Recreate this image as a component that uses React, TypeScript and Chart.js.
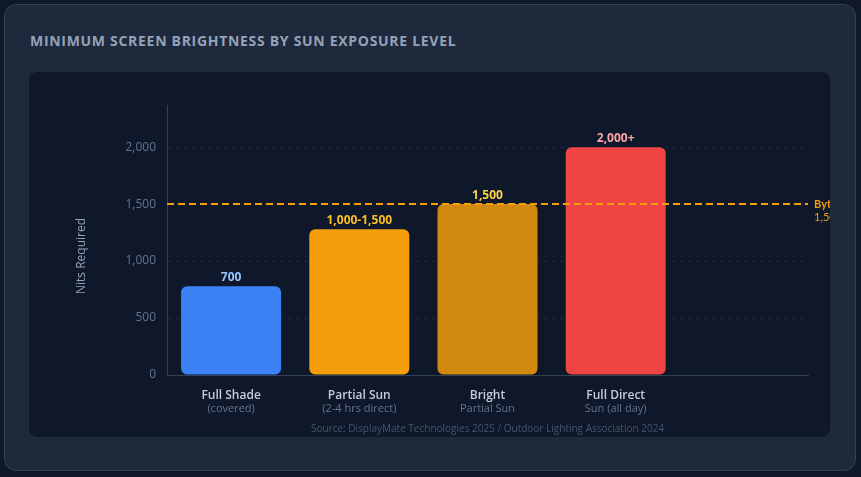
import React, { useEffect, useRef } from 'react';
import { Chart, registerables } from 'chart.js';

Chart.register(...registerables);

// ---- data ----
const categories = ['Full Shade', 'Partial Sun', 'Bright', 'Full Direct', ''];
const subLabels = ['(covered)', '(2-4 hrs direct)', 'Partial Sun', 'Sun (all day)', ''];
const nitsValues: (number | null)[] = [780, 1280, 1500, 2000, null];
const valueLabels = ['700', '1,000-1,500', '1,500', '2,000+', ''];
const barColors = ['#3b82f6', '#f59e0b', 'rgba(245,158,11,0.85)', '#ef4444', 'transparent'];
const valueLabelColors = ['#93c5fd', '#fbbf24', '#fcd34d', '#fca5a5', 'transparent'];
const yMin = 0;
const yMax = 2370;
const yTickValues = [0, 500, 1000, 1500, 2000];
const thresholdValue = 1500;
const thresholdLines = ['Bytech TV', '1,500 nits'];
const titleText = 'Minimum Screen Brightness by Sun Exposure Level';
const yAxisTitle = 'Nits Required';
const sourceText = 'Source: DisplayMate Technologies 2025 / Outdoor Lighting Association 2024';

const FONT = "'Open Sans', 'Noto Sans', sans-serif";
const NARROW = "Lato, 'Open Sans', sans-serif";

const CANVAS_W = 832;
const CANVAS_H = 365;

const overlayPlugin = {
  id: 'overlay',
  afterDatasetsDraw(chart: any) {
    const { ctx, chartArea, scales } = chart;
    const meta = chart.getDatasetMeta(0);
    // value labels
    ctx.save();
    ctx.font = `700 12px ${FONT}`;
    ctx.textAlign = 'center';
    ctx.textBaseline = 'bottom';
    meta.data.forEach((bar: any, i: number) => {
      if (nitsValues[i] == null) return;
      ctx.fillStyle = valueLabelColors[i];
      ctx.fillText(valueLabels[i], bar.x, bar.y - 3);
    });
    ctx.restore();

    // threshold line
    const y = scales.y.getPixelForValue(thresholdValue);
    ctx.save();
    ctx.strokeStyle = '#f59e0b';
    ctx.lineWidth = 2;
    ctx.setLineDash([7, 4]);
    ctx.beginPath();
    ctx.moveTo(chartArea.left, y);
    ctx.lineTo(chartArea.right, y);
    ctx.stroke();
    ctx.setLineDash([]);
    ctx.textAlign = 'left';
    ctx.textBaseline = 'middle';
    ctx.fillStyle = '#f59e0b';
    ctx.font = `700 11px ${NARROW}`;
    ctx.fillText(thresholdLines[0], chartArea.right + 6, y);
    ctx.font = `400 11px ${NARROW}`;
    ctx.fillText(thresholdLines[1], chartArea.right + 6, y + 13);
    ctx.restore();
  },
  afterDraw(chart: any) {
    const { ctx, chartArea, scales } = chart;
    const xs = scales.x;
    ctx.save();
    // sub labels
    ctx.font = `400 11px ${FONT}`;
    ctx.fillStyle = '#64748b';
    ctx.textAlign = 'center';
    ctx.textBaseline = 'alphabetic';
    subLabels.forEach((s, i) => {
      if (!s) return;
      ctx.fillText(s, xs.getPixelForTick(i), chartArea.bottom + 37);
    });
    // y axis title
    ctx.save();
    ctx.translate(chartArea.left - 85, (chartArea.top + chartArea.bottom) / 2 + 16);
    ctx.rotate(-Math.PI / 2);
    ctx.font = `400 12px ${FONT}`;
    ctx.fillStyle = '#94a3b8';
    ctx.textBaseline = 'middle';
    ctx.textAlign = 'center';
    ctx.fillText(yAxisTitle, 0, 0);
    ctx.restore();
    // source
    ctx.font = `400 10px ${FONT}`;
    ctx.fillStyle = '#475569';
    ctx.textAlign = 'center';
    ctx.textBaseline = 'middle';
    ctx.fillText(sourceText, (chartArea.left + chartArea.right) / 2, chartArea.bottom + 54);
    ctx.restore();
  },
};

function BarChart() {
  const ref = useRef<HTMLCanvasElement | null>(null);
  useEffect(() => {
    if (!ref.current) return;
    const chart = new Chart(ref.current, {
      type: 'bar',
      data: {
        labels: categories,
        datasets: [
          {
            data: nitsValues as any,
            backgroundColor: barColors,
            borderRadius: 6,
            borderSkipped: false,
            categoryPercentage: 0.78,
            barPercentage: 1,
          },
        ],
      },
      options: {
        responsive: false,
        animation: false,
        devicePixelRatio: 1,
        layout: { padding: { top: 33, right: 53, left: 42, bottom: 0 } },
        plugins: {
          legend: { display: false },
          tooltip: { enabled: false },
          title: { display: false },
        },
        scales: {
          x: {
            grid: { display: false },
            border: { display: true, color: '#334155', width: 1 },
            ticks: {
              color: '#c3cdd9',
              font: { family: FONT, size: 12, weight: '600' as any },
              padding: 5,
              maxRotation: 0,
              autoSkip: false,
            },
            afterFit: (s: any) => {
              s.height = 62;
            },
          },
          y: {
            min: yMin,
            max: yMax,
            grid: { color: 'rgba(100,116,139,0.18)', drawTicks: false, lineWidth: 1 },
            border: { display: true, color: '#334155', width: 1, dash: [4, 4] },
            afterBuildTicks: (s: any) => {
              s.ticks = yTickValues.map((v) => ({ value: v }));
            },
            ticks: {
              color: '#64748b',
              padding: 11,
              font: { family: FONT, size: 12 },
              callback: (v: any) => Number(v).toLocaleString('en-US'),
            },
            afterFit: (s: any) => {
              s.width = 96;
            },
          },
        },
      },
      plugins: [overlayPlugin],
    });
    return () => chart.destroy();
  }, []);
  return <canvas ref={ref} width={CANVAS_W} height={CANVAS_H} style={{ display: 'block', width: CANVAS_W, height: CANVAS_H }} />;
}

export default function App() {
  return (
    <div style={{ position: 'fixed', left: 0, top: 0, width: 861, height: 477, background: '#0f172a', overflow: 'hidden' }}>
      <div
        style={{
          position: 'absolute',
          left: 4,
          top: 4,
          width: 852,
          height: 467,
          boxSizing: 'border-box',
          background: '#1e293b',
          border: '1px solid #334155',
          borderRadius: 12,
        }}
      />
      <div
        style={{
          position: 'absolute',
          left: 30,
          top: 31,
          fontFamily: FONT,
          fontWeight: 700,
          fontSize: 14,
          lineHeight: '20px',
          letterSpacing: 0.7,
          textTransform: 'uppercase',
          color: '#94a3b8',
          whiteSpace: 'nowrap',
        }}
      >
        {titleText}
      </div>
      <div
        style={{
          position: 'absolute',
          left: 29,
          top: 72,
          width: 801,
          height: 365,
          background: '#0f172a',
          borderRadius: 8,
          overflow: 'hidden',
        }}
      >
        <BarChart />
      </div>
    </div>
  );
}
